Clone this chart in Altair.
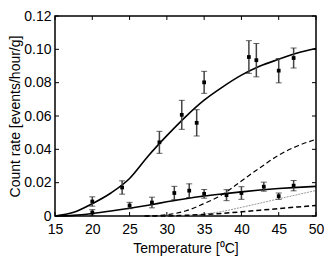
import altair as alt
import pandas as pd

# ---- data ----
x_ticks = [15, 20, 25, 30, 35, 40, 45, 50]
y_ticks = [0, 0.02, 0.04, 0.06, 0.08, 0.10, 0.12]

temp_hi = [20, 24, 29, 32, 34, 35, 41, 42, 45, 47]
rate_hi = [0.0087, 0.0171, 0.0442, 0.0607, 0.0559, 0.0802, 0.0954, 0.0935, 0.0872, 0.0948]
err_hi = [0.0028, 0.0040, 0.0066, 0.0087, 0.0079, 0.0066, 0.0098, 0.0100, 0.0073, 0.0060]

temp_lo = [20, 25, 28, 31, 33, 35, 38, 40, 43, 45, 47]
rate_lo = [0.0021, 0.0063, 0.0081, 0.0138, 0.0152, 0.0133, 0.0125, 0.0138, 0.0176, 0.0119, 0.0182]
err_lo = [0.0017, 0.0019, 0.0032, 0.0040, 0.0041, 0.0026, 0.0033, 0.0038, 0.0027, 0.0019, 0.0031]

fit_t = [15, 17.5, 20, 22.5, 25, 27.5, 30, 32.5, 35, 37.5, 40, 42.5, 45, 47.5, 50]
fit_hi = [0.0, 0.0022, 0.0074, 0.0138, 0.0225, 0.0360, 0.0482, 0.0595, 0.0695, 0.0775, 0.0845, 0.0900, 0.0940, 0.0978, 0.1005]
fit_lo = [0.0, 0.0004, 0.0015, 0.0030, 0.0047, 0.0065, 0.0085, 0.0104, 0.0120, 0.0133, 0.0145, 0.0156, 0.0165, 0.0172, 0.0178]

comp_t = [27, 30, 32.5, 35, 37.5, 40, 42.5, 45, 47.5, 50]
comp_dash = [0.0, 0.0008, 0.0030, 0.0075, 0.0130, 0.0210, 0.0290, 0.0365, 0.0420, 0.0460]
comp_gray = [0.0, 0.0, 0.0003, 0.0012, 0.0028, 0.0052, 0.0077, 0.0103, 0.0128, 0.0153]
comp_dot = [0.0, 0.0, 0.0004, 0.0009, 0.0016, 0.0025, 0.0035, 0.0044, 0.0054, 0.0063]

W, H = 261, 200
FONT = "Liberation Sans"

xs = alt.Scale(domain=[15, 50], nice=False, zero=False)
ys = alt.Scale(domain=[0, 0.12], nice=False)
xa = alt.Axis(values=x_ticks, ticks=False, domain=False, grid=False, labelFontSize=14,
              labelPadding=6, title="Temperature [\u2070C]", titleFontSize=14,
              titleFontWeight="normal", titlePadding=5, labelColor="black", titleColor="black",
              labelFont=FONT, titleFont=FONT, labelFlush=False)
ya = alt.Axis(values=y_ticks, ticks=False, domain=False, grid=False, labelFontSize=14,
              labelPadding=4, title="Count rate [events/hour/g]", titleFontSize=14,
              titleFontWeight="normal", titlePadding=1, labelColor="black", titleColor="black",
              labelFont=FONT, titleFont=FONT, labelFlush=False,
              labelExpr="datum.value == 0 ? '0' : format(datum.value, '.2f')")


def X(field="T"):
    return alt.X(f"{field}:Q", scale=xs, axis=xa)


def Y(field="v"):
    return alt.Y(f"{field}:Q", scale=ys, axis=ya)


df_hi = pd.DataFrame({"T": temp_hi, "v": rate_hi, "e": err_hi})
df_lo = pd.DataFrame({"T": temp_lo, "v": rate_lo, "e": err_lo})
pts = pd.concat([df_hi, df_lo], ignore_index=True)
pts["lo"] = pts["v"] - pts["e"]
pts["hi"] = pts["v"] + pts["e"]

fits = pd.DataFrame({"T": fit_t, "hi": fit_hi, "lo": fit_lo})
comps = pd.DataFrame({"T": comp_t, "dash": comp_dash, "gray": comp_gray, "dot": comp_dot})

base_fit = alt.Chart(fits)
base_comp = alt.Chart(comps)

line_hi = base_fit.mark_line(color="black", strokeWidth=1.6, interpolate="monotone").encode(x=X(), y=Y("hi"))
line_lo = base_fit.mark_line(color="black", strokeWidth=1.6, interpolate="monotone").encode(x=X(), y=Y("lo"))
line_dash = base_comp.mark_line(color="black", strokeWidth=1.2, strokeDash=[5, 3], interpolate="monotone").encode(x=X(), y=Y("dash"))
line_gray = base_comp.mark_line(color="#999999", strokeWidth=1, strokeDash=[2, 1], interpolate="monotone").encode(x=X(), y=Y("gray"))
line_dot = base_comp.mark_line(color="black", strokeWidth=1.5, strokeDash=[5, 3], interpolate="monotone").encode(x=X(), y=Y("dot"))

bars = alt.Chart(pts).mark_rule(color="#444444", strokeWidth=1.5).encode(x=X(), y=Y("lo"), y2="hi:Q")
cap_lo = alt.Chart(pts).mark_tick(color="#222222", thickness=1, size=6, orient="horizontal").encode(x=X(), y=Y("lo"))
cap_hi = alt.Chart(pts).mark_tick(color="#222222", thickness=1, size=6, orient="horizontal").encode(x=X(), y=Y("hi"))
dots = alt.Chart(pts).mark_square(color="black", size=14, opacity=1).encode(x=X(), y=Y("v"))

xt = pd.DataFrame({"T": x_ticks})
yt = pd.DataFrame({"v": y_ticks})
tick_b = alt.Chart(xt).mark_rule(color="black", strokeWidth=1).encode(x=X(), y=alt.value(H), y2=alt.value(H - 4))
tick_t = alt.Chart(xt).mark_rule(color="black", strokeWidth=1).encode(x=X(), y=alt.value(0), y2=alt.value(4))
tick_l = alt.Chart(yt).mark_rule(color="black", strokeWidth=1).encode(y=Y(), x=alt.value(0), x2=alt.value(4))
tick_r = alt.Chart(yt).mark_rule(color="black", strokeWidth=1).encode(y=Y(), x=alt.value(W - 4), x2=alt.value(W))

chart = alt.layer(
    line_gray, line_dot, line_dash, line_lo, line_hi,
    bars, cap_lo, cap_hi, dots,
    tick_b, tick_t, tick_l, tick_r,
).properties(
    width=W, height=H,
    autosize=alt.AutoSizeParams(type="none"),
    padding={"left": 47, "top": 8, "right": 8, "bottom": 41},
).configure_view(stroke="black", strokeWidth=1.5)

chart.save("out.html", embed_options={"renderer": "svg", "actions": False})
